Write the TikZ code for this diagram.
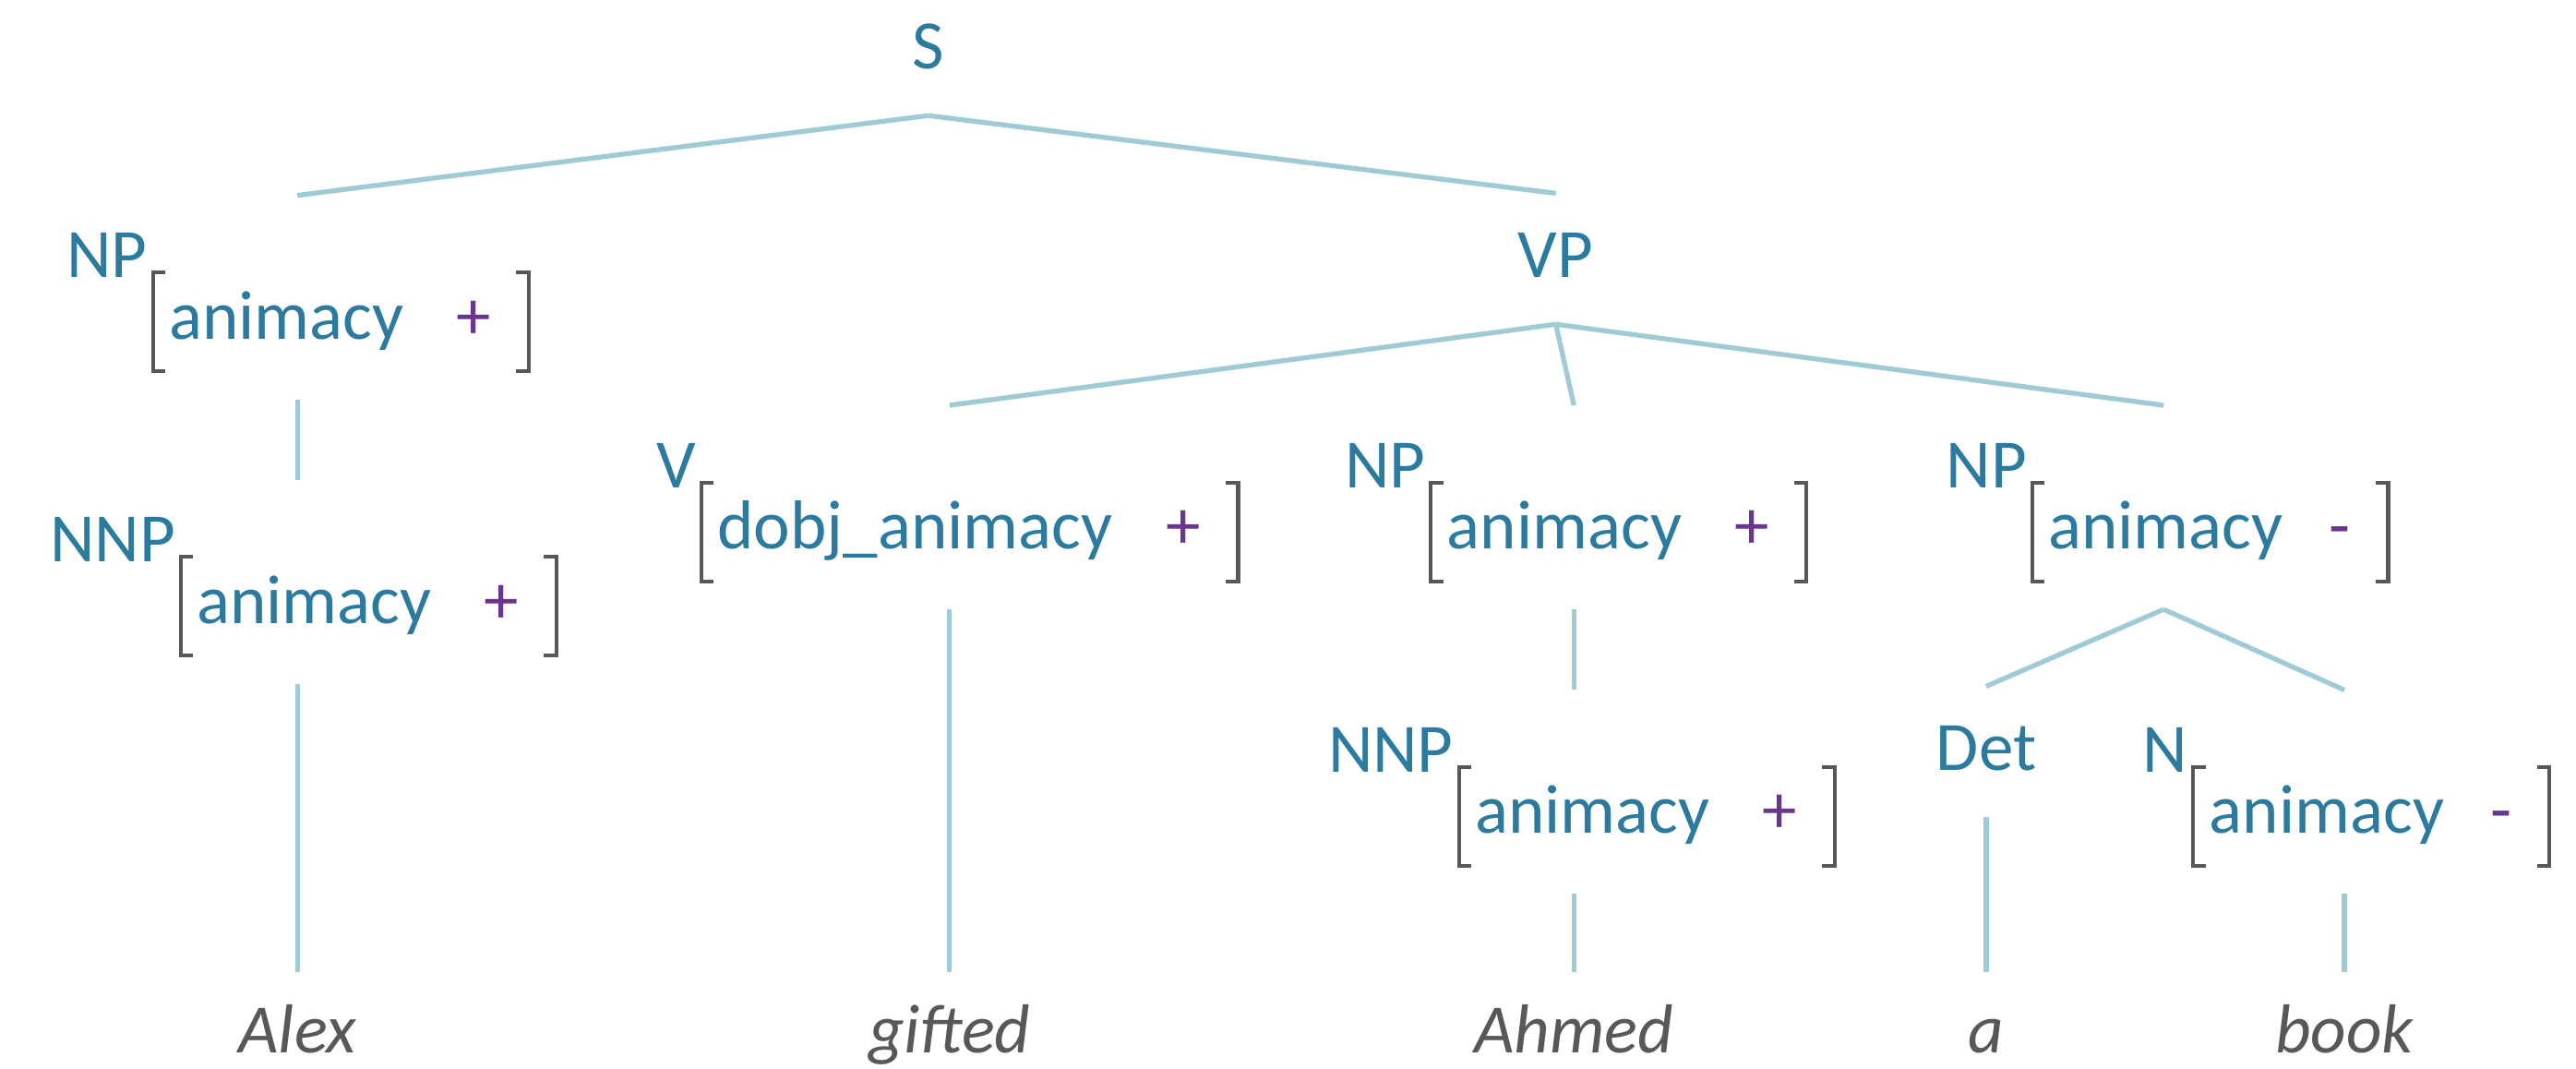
\documentclass[tikz,border=0pt]{standalone}
\usepackage{fontspec}
\setmainfont{Carlito}
\usetikzlibrary{positioning}

\definecolor{catcol}{RGB}{44,123,158}
\definecolor{featval}{RGB}{105,54,140}
\definecolor{brkcol}{RGB}{88,88,88}
\definecolor{leafcol}{RGB}{88,88,88}
\definecolor{branchcol}{RGB}{160,202,214}

% feature matrix: width, feature, value
\newcommand{\feat}[3]{\makebox[#1][l]{#2\hfill\textcolor{featval}{#3}\hspace{.26cm}}}

\begin{document}
\begin{tikzpicture}[
	x=0.02cm, y=-0.02cm,
	font=\fontsize{24}{29}\selectfont
]
\tikzset{
    hub/.style = {inner sep=0, minimum width=0, minimum height=2.47cm},
    cat/.style = {text=catcol, inner xsep=0, inner ysep=.56cm, text height=.46cm, text depth=0pt, anchor=base},
    lab/.style = {text=catcol, inner sep=0, anchor=base east},
    avm/.style = {text=catcol, inner xsep=.19cm, inner ysep=0, minimum height=1.19cm,
                  text height=.55cm, text depth=.14cm, anchor=west},
    leaf/.style = {text=leafcol, font=\fontsize{24}{29}\selectfont\itshape, inner xsep=0, inner ysep=.52cm,
                   text height=.46cm, text depth=0pt, anchor=base},
    branch/.style = {-, line width=1.7pt, branchcol},
    brk/.style = {line width=1.3pt, brkcol, line join=miter}
}
\useasboundingbox (0,0) rectangle (1568,650.5);
%
\node[cat] at (565,42) (s) {S};
\node[cat] at (947,169) (vp) {VP};
\node[cat] at (1209,469) (det) {Det};
%
\node[hub] at (181,181) (np1) {};
\node[hub] at (181,354) (nnp1) {};
\node[hub] at (578,308.75) (v) {};
\node[hub] at (958,308.75) (np2) {};
\node[hub] at (1317,308.75) (np3) {};
\node[hub] at (958,482) (nnp2) {};
\node[hub] at (1427,482) (n) {};
%
\node[avm] at (93,196) (np1f) {\feat{4.18cm}{animacy}{+}};
\node[avm] at (110,369) (nnp1f) {\feat{4.18cm}{animacy}{+}};
\node[avm] at (427,324) (vf) {\feat{6.14cm}{dobj\_animacy}{+}};
\node[avm] at (871,324) (np2f) {\feat{4.18cm}{animacy}{+}};
\node[avm] at (888,497) (nnp2f) {\feat{4.18cm}{animacy}{+}};
\node[avm] at (1237,324) (np3f) {\feat{3.94cm}{animacy}{-}};
\node[avm] at (1335,497) (nf) {\feat{3.94cm}{animacy}{-}};
%
\node[lab] at ([shift={(-3,3)}]np1f.north west) (np1l) {NP};
\node[lab] at ([shift={(-3,3)}]nnp1f.north west) (nnp1l) {NNP};
\node[lab] at ([shift={(-3,3)}]vf.north west) (vl) {V};
\node[lab] at ([shift={(-3,3)}]np2f.north west) (np2l) {NP};
\node[lab] at ([shift={(-3,3)}]nnp2f.north west) (nnp2l) {NNP};
\node[lab] at ([shift={(-3,3)}]np3f.north west) (np3l) {NP};
\node[lab] at ([shift={(-3,3)}]nf.north west) (nl) {N};
%
\node[leaf] at (181,641) (alex) {Alex};
\node[leaf] at (578,641) (gifted) {gifted};
\node[leaf] at (958,641) (ahmed) {Ahmed};
\node[leaf] at (1209,641) (a) {a};
\node[leaf] at (1427,641) (book) {book};
%
\foreach \m in {np1f,nnp1f,vf,np2f,nnp2f,np3f,nf} {
  \draw[brk] ([xshift=.15cm]\m.north west) -- (\m.north west) -- (\m.south west) -- ([xshift=.15cm]\m.south west);
  \draw[brk] ([xshift=-.15cm]\m.north east) -- (\m.north east) -- (\m.south east) -- ([xshift=-.15cm]\m.south east);
}
%
\draw[branch] (s.south) -- (np1.north);
\draw[branch] (s.south) -- (vp.north);
\draw[branch] (np1.south) -- (nnp1.north);
\draw[branch] (nnp1.south) -- (alex.north);
%
\draw[branch] (vp.south) -- (v.north);
\draw[branch] (vp.south) -- (np2.north);
\draw[branch] (vp.south) -- (np3.north);
\draw[branch] (v.south) -- (gifted.north);
\draw[branch] (np2.south) -- (nnp2.north);
\draw[branch] (nnp2.south) -- (ahmed.north);
%
\draw[branch] (np3.south) -- (det.north);
\draw[branch] (np3.south) -- (n.north);
\draw[branch] (det.south) -- (a.north);
\draw[branch] (n.south) -- (book.north);
\end{tikzpicture}
\end{document}
